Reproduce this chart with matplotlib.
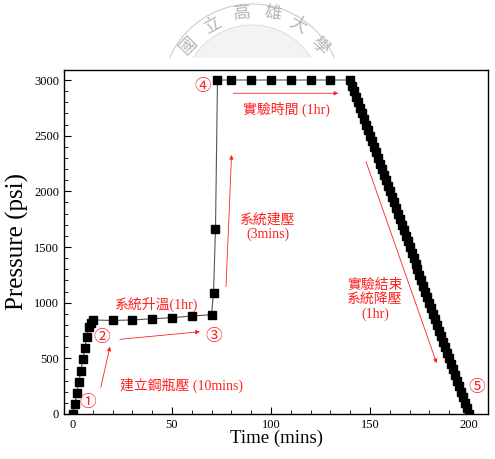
import matplotlib
matplotlib.use("Agg")
import matplotlib.pyplot as plt
from matplotlib.patches import Circle, Rectangle
from matplotlib.ticker import MultipleLocator

plt.rcParams['font.family'] = ['Liberation Serif', 'Noto Sans CJK TC', 'DejaVu Sans']

# ---- data ----
time_min = [0, 1, 2, 3, 4, 5, 6, 7, 8, 9, 10,
            20, 30, 40, 50, 60, 70, 71, 72, 73,
            80, 90, 100, 110, 120, 130, 140,
            141, 142, 143, 144, 145, 146, 147, 148, 149, 150,
            151, 152, 153, 154, 155, 156, 157, 158, 159, 160,
            161, 162, 163, 164, 165, 166, 167, 168, 169, 170,
            171, 172, 173, 174, 175, 176, 177, 178, 179, 180,
            181, 182, 183, 184, 185, 186, 187, 188, 189, 190,
            191, 192, 193, 194, 195, 196, 197, 198, 199, 200]
pressure_psi = [0, 90, 190, 290, 390, 490, 590, 690, 785, 820, 845,
                840, 845, 855, 865, 880, 892, 1090, 1660, 3000,
                3000, 3000, 3000, 3000, 3000, 3000, 3000,
                2950, 2900, 2850, 2800, 2750, 2700, 2650, 2600, 2550, 2500,
                2450, 2400, 2350, 2300, 2250, 2200, 2150, 2100, 2050, 2000,
                1950, 1900, 1850, 1800, 1750, 1700, 1650, 1600, 1550, 1500,
                1450, 1400, 1350, 1300, 1250, 1200, 1150, 1100, 1050, 1000,
                950, 900, 850, 800, 750, 700, 650, 600, 550, 500,
                450, 400, 350, 300, 250, 200, 150, 100, 50, 0]

x_ticks = [0, 50, 100, 150, 200]
y_ticks = [0, 500, 1000, 1500, 2000, 2500, 3000]

W, H = 495, 459
fig = plt.figure(figsize=(W / 100, H / 100), dpi=100)

# ---- watermark (pixel coordinate overlay) ----
wm = fig.add_axes([0, 0, 1, 1], zorder=0)
wm.set_xlim(0, W)
wm.set_ylim(H, 0)
wm.axis('off')
clip = Rectangle((0, -10), W, 68, transform=wm.transData)
disc = Circle((252, 94), 69, facecolor='#f3f3f3', edgecolor='#d8d8d8', lw=0.6)
wm.add_patch(disc)
disc.set_clip_path(clip)
ring = Circle((252, 94), 90, facecolor='none', edgecolor='#cccccc', lw=0.8)
wm.add_patch(ring)
ring.set_clip_path(clip)
for ch, (px, py, rot) in zip("國立高雄大學",
                             [(189, 46, 45), (213, 25, 28), (242, 13, 5),
                              (273, 13, -8), (298, 24, -28), (319, 46, -45)]):
    wm.text(px, py, ch, fontsize=12.5, color='#b4b4b4', rotation=rot,
            ha='center', va='center', family=['Noto Sans CJK TC'])

# ---- main axes ----
ax = fig.add_axes([64 / W, 1 - 414 / H, (488 - 64) / W, (414 - 70) / H], zorder=1)
ax.patch.set_alpha(0)
ax.plot(time_min, pressure_psi, color='#555555', lw=0.8, marker='s',
        markersize=5.4, markerfacecolor='black', markeredgecolor='black',
        clip_on=True)
ax.set_xlim(-4.5, 209.6)
ax.set_ylim(0, 3090)
ax.set_xticks(x_ticks)
ax.set_yticks(y_ticks)
ax.xaxis.set_minor_locator(MultipleLocator(10))
ax.yaxis.set_minor_locator(MultipleLocator(100))
ax.tick_params(which='both', direction='in', top=False, right=False,
               labelsize=9)
ax.tick_params(which='major', length=5, width=0.8)
ax.tick_params(which='minor', length=3, width=0.6)
for s in ax.spines.values():
    s.set_linewidth(1.0)
ax.set_xlabel('Time (mins)', fontsize=13.5, labelpad=-1)
ax.set_ylabel('Pressure (psi)', fontsize=18, labelpad=4)

# ---- annotations ----
red = '#ff2020'
tkw = dict(color=red, ha='center', va='center')
ax.text(7.7, 102, '①', fontsize=12, **tkw)
ax.text(14.5, 680, '②', fontsize=12, **tkw)
ax.text(70.9, 695, '③', fontsize=12, **tkw)
ax.text(65.5, 2940, '④', fontsize=12, **tkw)
ax.text(203.9, 231, '⑤', fontsize=12, **tkw)
ax.text(54.9, 261, '建立鋼瓶壓 (10mins)', fontsize=10, **tkw)
ax.text(42.3, 988, '系統升溫(1hr)', fontsize=10, **tkw)
ax.text(107.9, 2738, '實驗時間 (1hr)', fontsize=10, **tkw)
ax.text(98.5, 1680, '系統建壓\n(3mins)', fontsize=10, linespacing=1.1, **tkw)
ax.text(152.5, 1024, '實驗結束\n系統降壓\n(1hr)', fontsize=10, linespacing=1.1, **tkw)

akw = dict(arrowstyle='-|>', color=red, lw=0.6, mutation_scale=6,
           shrinkA=0, shrinkB=0)
arrows = [((14.1, 240), (18.7, 605)),
          ((23.7, 671), (64.1, 739)),
          ((77.3, 1144), (80.1, 2327)),
          ((81.0, 2881), (134.0, 2881)),
          ((148.0, 2267), (183.7, 456))]
for start, end in arrows:
    ax.annotate('', xy=end, xytext=start, arrowprops=akw)

fig.savefig('out.png', dpi=100)
